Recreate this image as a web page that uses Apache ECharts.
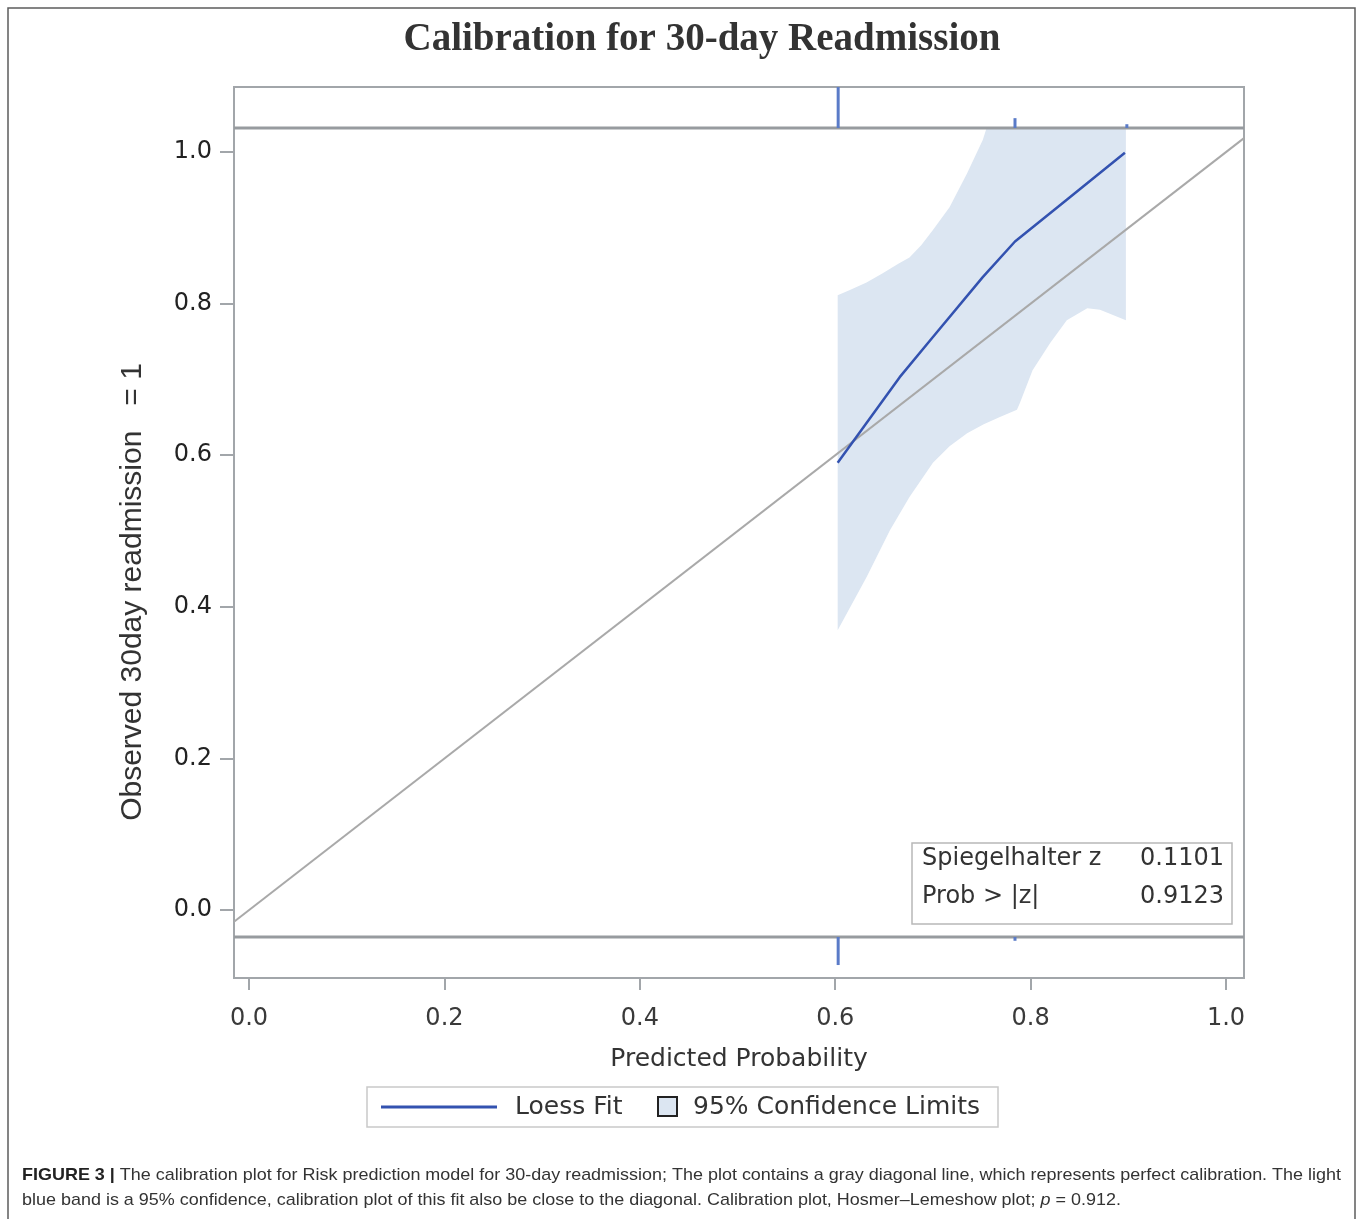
<!DOCTYPE html>
<html>
<head>
<meta charset="utf-8">
<script src="https://cdn.jsdelivr.net/npm/echarts@6/dist/echarts.min.js"></script>
<style>
  html, body { margin: 0; padding: 0; background: #fff; }
  #chart-container { width: 1360px; height: 1219px; }
</style>
</head>
<body>
<div id="chart-container"></div>
<script>
// values
var tickValues = [0, 0.2, 0.4, 0.6, 0.8, 1.0];

var diagX = [-0.0154, 1.0184];

var loessX = [0.6025, 0.666, 0.700, 0.751, 0.784, 0.837, 0.8965];
var loessY = [0.590, 0.703, 0.756, 0.835, 0.882, 0.937, 0.999];

// upper limit leaves the panel near x=0.755 (shown cut at the panel edge)
var upperX = [0.6025, 0.615, 0.632, 0.6486, 0.665, 0.676, 0.688, 0.700, 0.717, 0.735, 0.751, 0.755, 0.8975];
var upperY = [0.811, 0.818, 0.828, 0.840, 0.853, 0.861, 0.877, 0.897, 0.927, 0.972, 1.016, 1.032, 1.032];
var lowerX = [0.6025, 0.632, 0.656, 0.676, 0.700, 0.717, 0.735, 0.752, 0.768, 0.786, 0.789, 0.802, 0.820, 0.837, 0.858, 0.871, 0.8975];
var lowerY = [0.369, 0.439, 0.501, 0.545, 0.590, 0.612, 0.629, 0.641, 0.650, 0.660, 0.669, 0.712, 0.748, 0.778, 0.794, 0.792, 0.778];

// rug strips above and below the panel
var panelTop = 1.0317;
var panelBottom = -0.0356;
var rugTopX = [0.603, 0.784, 0.8985];
var rugTopLen = [0.054, 0.013, 0.005];
var rugBottomX = [0.603, 0.784];
var rugBottomLen = [0.037, 0.005];

var statLabels = ['Spiegelhalter z', 'Prob > |z|'];
var statValues = ['0.1101', '0.9123'];

var xMin = -0.0154, xMax = 1.0184;
var yMin = -0.0897, yMax = 1.0858;

var dom = document.getElementById('chart-container');
var myChart = echarts.init(dom, null, { renderer: 'canvas' });

var axisFont = '"DejaVu Sans", sans-serif';
var frameColor = '#a2a6aa';

function zip(xs, ys) {
  return xs.map(function (x, i) { return [x, ys[i]]; });
}

var bandPoly = zip(upperX, upperY).concat(zip(lowerX, lowerY).reverse());

function rugData(xs, lens, base, dir) {
  return xs.map(function (x, i) { return [x, base, base + dir * lens[i]]; });
}

function renderRug(params, api) {
  var p0 = api.coord([api.value(0), api.value(1)]);
  var p1 = api.coord([api.value(0), api.value(2)]);
  return {
    type: 'line',
    shape: { x1: p0[0], y1: p0[1], x2: p1[0], y2: p1[1] },
    style: { stroke: '#5a7bc8', lineWidth: 3 }
  };
}

// caption, squeezed to the width of the printed figure legend
var capFont = '"Liberation Sans", Arial, sans-serif';
var cap1b = 'FIGURE 3 | ';
var cap1 = 'The calibration plot for Risk prediction model for 30-day readmission; The plot contains a gray diagonal line, which represents perfect calibration. The light';
var cap2a = 'blue band is a 95% confidence, calibration plot of this fit also be close to the diagonal. Calibration plot, Hosmer\u2013Lemeshow plot; ';
var cap2b = 'p';
var cap2c = ' = 0.912.';
var mctx = document.createElement('canvas').getContext('2d');
mctx.font = 'bold 17px ' + capFont;
var wB = mctx.measureText(cap1b).width;
mctx.font = '17px ' + capFont;
var wN = mctx.measureText(cap1).width;
var capScale = 1319 / (wB + wN);

var option = {
  animation: false,
  backgroundColor: '#fff',
  grid: {
    left: 234, right: 116, top: 87, bottom: 241,
    show: true, borderColor: frameColor, borderWidth: 2,
    outerBoundsMode: 'none'
  },
  xAxis: {
    type: 'value', min: xMin, max: xMax,
    splitLine: { show: false },
    axisLine: { show: false, onZero: false },
    axisTick: { show: true, inside: false, customValues: tickValues, length: 12, lineStyle: { color: frameColor, width: 2 } },
    axisLabel: {
      customValues: tickValues, margin: 29,
      formatter: function (v) { return v.toFixed(1); },
      fontFamily: axisFont, fontSize: 24, color: '#3a3a3a'
    },
    name: 'Predicted Probability', nameLocation: 'middle', nameGap: 69,
    nameTextStyle: { fontFamily: axisFont, fontSize: 25, color: '#333' }
  },
  yAxis: {
    type: 'value', min: yMin, max: yMax,
    splitLine: { show: false },
    axisLine: { show: false, onZero: false },
    axisTick: { show: true, inside: false, customValues: tickValues, length: 14, lineStyle: { color: frameColor, width: 2 } },
    axisLabel: {
      customValues: tickValues, margin: 22,
      formatter: function (v) { return v.toFixed(1); },
      fontFamily: axisFont, fontSize: 24, color: '#222'
    }
  },
  series: [
    {
      name: '95% Confidence Limits',
      type: 'custom',
      data: [0],
      z: 1,
      renderItem: function (params, api) {
        return {
          type: 'polygon',
          shape: { points: bandPoly.map(function (p) { return api.coord(p); }) },
          style: { fill: '#dce6f2' }
        };
      }
    },
    {
      name: 'diagonal',
      type: 'line', z: 3, showSymbol: false, silent: true,
      data: zip(diagX, diagX),
      lineStyle: { color: '#a9a9a9', width: 2 }
    },
    {
      name: 'Loess Fit',
      type: 'line', z: 4, showSymbol: false,
      data: zip(loessX, loessY),
      lineStyle: { color: '#3352b0', width: 2.5 }
    },
    {
      name: 'top divider',
      type: 'line', z: 5, showSymbol: false, silent: true,
      data: [[xMin, panelTop], [xMax, panelTop]],
      lineStyle: { color: '#979b9f', width: 3 }
    },
    {
      name: 'bottom divider',
      type: 'line', z: 5, showSymbol: false, silent: true,
      data: [[xMin, panelBottom], [xMax, panelBottom]],
      lineStyle: { color: '#979b9f', width: 3 }
    },
    {
      name: 'rug top',
      type: 'custom', z: 6,
      data: rugData(rugTopX, rugTopLen, panelTop, 1),
      renderItem: renderRug
    },
    {
      name: 'rug bottom',
      type: 'custom', z: 6,
      data: rugData(rugBottomX, rugBottomLen, panelBottom, -1),
      renderItem: renderRug
    }
  ],
  graphic: [
    {
      type: 'rect', z: -10, silent: true,
      shape: { x: 8, y: 8, width: 1347, height: 1225 },
      style: { fill: null, stroke: '#5c5c5c', lineWidth: 1.5 }
    },
    {
      type: 'text', x: 702, y: 40,
      style: {
        text: 'Calibration for 30-day Readmission',
        font: 'bold 39px "Liberation Serif", "Times New Roman", serif',
        fill: '#333', align: 'center', verticalAlign: 'middle'
      }
    },
    {
      type: 'text', x: 133, y: 592, rotation: Math.PI / 2,
      style: {
        text: 'Observed 30day readmission   = 1',
        font: '30px "Liberation Sans", Arial, sans-serif',
        fill: '#333', align: 'center', verticalAlign: 'middle'
      }
    },
    // statistics inset
    {
      type: 'rect', z: 100,
      shape: { x: 912, y: 843, width: 320, height: 81 },
      style: { fill: '#fff', stroke: '#b8b8b8', lineWidth: 1.5 }
    },
    {
      type: 'text', z: 101, x: 922, y: 859,
      style: { text: statLabels[0], font: '24px ' + axisFont, fill: '#333', verticalAlign: 'middle' }
    },
    {
      type: 'text', z: 101, x: 1224, y: 859,
      style: { text: statValues[0], font: '24px ' + axisFont, fill: '#333', align: 'right', verticalAlign: 'middle' }
    },
    {
      type: 'text', z: 101, x: 922, y: 897,
      style: { text: statLabels[1], font: '24px ' + axisFont, fill: '#333', verticalAlign: 'middle' }
    },
    {
      type: 'text', z: 101, x: 1224, y: 897,
      style: { text: statValues[1], font: '24px ' + axisFont, fill: '#333', align: 'right', verticalAlign: 'middle' }
    },
    // legend
    {
      type: 'rect',
      shape: { x: 367, y: 1087, width: 631, height: 40 },
      style: { fill: '#fff', stroke: '#c9c9c9', lineWidth: 1.5 }
    },
    {
      type: 'line',
      shape: { x1: 381, y1: 1107, x2: 497, y2: 1107 },
      style: { stroke: '#3352b0', lineWidth: 3 }
    },
    {
      type: 'text', x: 515, y: 1107,
      style: { text: 'Loess Fit', font: '25px ' + axisFont, fill: '#333', verticalAlign: 'middle' }
    },
    {
      type: 'rect',
      shape: { x: 658, y: 1097, width: 19, height: 19 },
      style: { fill: '#dce6f2', stroke: '#222', lineWidth: 2 }
    },
    {
      type: 'text', x: 693, y: 1107,
      style: { text: '95% Confidence Limits', font: '25px ' + axisFont, fill: '#333', verticalAlign: 'middle' }
    },
    // figure caption
    {
      type: 'text', x: 22, y: 1175, scaleX: capScale,
      style: {
        text: '{b|' + cap1b + '}{n|' + cap1 + '}',
        verticalAlign: 'middle',
        rich: {
          b: { font: 'bold 17px ' + capFont, fill: '#222' },
          n: { font: '17px ' + capFont, fill: '#333' }
        }
      }
    },
    {
      type: 'text', x: 22, y: 1200, scaleX: capScale,
      style: {
        text: '{n|' + cap2a + '}{i|' + cap2b + '}{n|' + cap2c + '}',
        verticalAlign: 'middle',
        rich: {
          n: { font: '17px ' + capFont, fill: '#333' },
          i: { font: 'italic 17px ' + capFont, fill: '#333' }
        }
      }
    }
  ]
};

if (option && typeof option === 'object') {
  myChart.setOption(option);
}

window.addEventListener('resize', myChart.resize);
</script>
</body>
</html>
